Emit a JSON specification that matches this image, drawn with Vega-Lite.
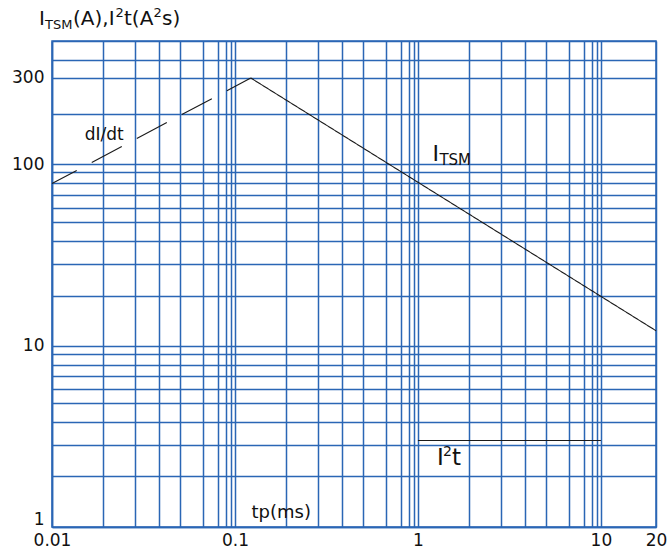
{
  "$schema": "https://vega.github.io/schema/vega-lite/v6.json",
  "width": 604,
  "height": 486,
  "autosize": {"type": "none"},
  "padding": {"left": 52, "top": 41, "right": 14, "bottom": 22},
  "background": "white",
  "config": {"view": {"stroke": "#2a66b5", "strokeWidth": 1.5}, "font": "DejaVu Sans"},
  "encoding": {
    "x": {
      "field": "x", "type": "quantitative",
      "scale": {"type": "log", "domain": [0.01, 20], "nice": false},
      "axis": {
        "values": [0.01, 0.019, 0.0285, 0.0383, 0.05, 0.067, 0.081, 0.089, 0.095, 0.1, 0.19, 0.285, 0.383, 0.5, 0.67, 0.81, 0.89, 0.95, 1, 1.9, 2.85, 3.83, 5, 6.7, 8.1, 8.9, 9.5, 10, 20],
        "format": "~g",
        "labelExpr": "indexof([0.01, 0.1, 1, 10, 20], datum.value) >= 0 ? datum.label : ''",
        "labelOverlap": false, "labelFlush": false,
        "labelFont": "DejaVu Sans", "labelFontSize": 17, "labelColor": "#111", "labelPadding": 5,
        "ticks": false,
        "domainColor": "#2a66b5", "domainWidth": 1.5,
        "grid": true, "gridColor": "#2a66b5", "gridWidth": 1.5, "gridOpacity": 1,
        "title": "tp(ms)", "titleFont": "DejaVu Sans", "titleFontSize": 18, "titleFontWeight": "normal", "titleColor": "#111",
        "titleX": 199, "titleY": -10, "titleAlign": "left", "titleBaseline": "alphabetic", "titleAngle": 0
      }
    },
    "y": {
      "field": "y", "type": "quantitative",
      "scale": {"type": "log", "domain": [1, 480], "nice": false},
      "axis": {
        "values": [1, 1.9, 2.83, 3.8, 4.82, 5.75, 6.8, 7.85, 9.05, 10, 18.9, 28.3, 38, 47.9, 57.4, 67.6, 78.8, 90.6, 100, 188.7, 300, 375.6, 480],
        "format": "~g",
        "labelExpr": "indexof([1, 10, 100, 300], datum.value) >= 0 ? datum.label : ''",
        "labelOverlap": false, "labelFlush": true, "labelFlushOffset": 1,
        "labelFont": "DejaVu Sans", "labelFontSize": 17, "labelColor": "#111", "labelPadding": 8,
        "ticks": false,
        "domainColor": "#2a66b5", "domainWidth": 1.5,
        "grid": true, "gridColor": "#2a66b5", "gridWidth": 1.5, "gridOpacity": 1,
        "title": null
      }
    }
  },
  "layer": [
    {
      "data": {"values": [
        {"series": "dI/dt", "x": 0.01, "y": 78.5},
        {"series": "dI/dt", "x": 0.122, "y": 300},
        {"series": "ITSM", "x": 0.122, "y": 300},
        {"series": "ITSM", "x": 20, "y": 12.1},
        {"series": "I2t", "x": 1, "y": 3},
        {"series": "I2t", "x": 10, "y": 3}
      ]},
      "mark": {"type": "line", "color": "#1a1a1a", "strokeWidth": 1.1, "strokeDashOffset": 6},
      "encoding": {
        "detail": {"field": "series", "type": "nominal"},
        "strokeDash": {"field": "series", "type": "nominal", "scale": {"domain": ["dI/dt", "ITSM", "I2t"], "range": [[34, 17], [1, 0], [1, 0]]}, "legend": null}
      }
    },
    {"data": {"values": [{"x": 0.01, "y": 480, "t": "I"}]}, "mark": {"type": "text", "align": "left", "baseline": "alphabetic", "fontSize": 20, "dx": -13, "dy": -16, "color": "#111"}, "encoding": {"text": {"field": "t", "type": "nominal"}}},
    {"data": {"values": [{"x": 0.01, "y": 480, "t": "TSM"}]}, "mark": {"type": "text", "align": "left", "baseline": "alphabetic", "fontSize": 13, "dx": -7, "dy": -12, "color": "#111"}, "encoding": {"text": {"field": "t", "type": "nominal"}}},
    {"data": {"values": [{"x": 0.01, "y": 480, "t": "(A),I"}]}, "mark": {"type": "text", "align": "left", "baseline": "alphabetic", "fontSize": 20, "dx": 21, "dy": -16, "color": "#111"}, "encoding": {"text": {"field": "t", "type": "nominal"}}},
    {"data": {"values": [{"x": 0.01, "y": 480, "t": "2"}]}, "mark": {"type": "text", "align": "left", "baseline": "alphabetic", "fontSize": 13, "dx": 63.5, "dy": -24, "color": "#111"}, "encoding": {"text": {"field": "t", "type": "nominal"}}},
    {"data": {"values": [{"x": 0.01, "y": 480, "t": "t(A"}]}, "mark": {"type": "text", "align": "left", "baseline": "alphabetic", "fontSize": 20, "dx": 72, "dy": -16, "color": "#111"}, "encoding": {"text": {"field": "t", "type": "nominal"}}},
    {"data": {"values": [{"x": 0.01, "y": 480, "t": "2"}]}, "mark": {"type": "text", "align": "left", "baseline": "alphabetic", "fontSize": 13, "dx": 101.5, "dy": -24, "color": "#111"}, "encoding": {"text": {"field": "t", "type": "nominal"}}},
    {"data": {"values": [{"x": 0.01, "y": 480, "t": "s)"}]}, "mark": {"type": "text", "align": "left", "baseline": "alphabetic", "fontSize": 20, "dx": 110, "dy": -16, "color": "#111"}, "encoding": {"text": {"field": "t", "type": "nominal"}}},
    {"data": {"values": [{"x": 0.0151, "y": 137, "t": "dI/dt"}]}, "mark": {"type": "text", "align": "left", "baseline": "alphabetic", "fontSize": 17, "color": "#111"}, "encoding": {"text": {"field": "t", "type": "nominal"}}},
    {"data": {"values": [{"x": 1.2, "y": 105, "t": "I"}]}, "mark": {"type": "text", "align": "left", "baseline": "alphabetic", "fontSize": 22, "color": "#111"}, "encoding": {"text": {"field": "t", "type": "nominal"}}},
    {"data": {"values": [{"x": 1.2, "y": 105, "t": "TSM"}]}, "mark": {"type": "text", "align": "left", "baseline": "alphabetic", "fontSize": 15, "dx": 7, "dy": 4, "color": "#111"}, "encoding": {"text": {"field": "t", "type": "nominal"}}},
    {"data": {"values": [{"x": 1.27, "y": 2.19, "t": "I"}]}, "mark": {"type": "text", "align": "left", "baseline": "alphabetic", "fontSize": 23, "color": "#111"}, "encoding": {"text": {"field": "t", "type": "nominal"}}},
    {"data": {"values": [{"x": 1.27, "y": 2.19, "t": "2"}]}, "mark": {"type": "text", "align": "left", "baseline": "alphabetic", "fontSize": 14, "dx": 6, "dy": -9, "color": "#111"}, "encoding": {"text": {"field": "t", "type": "nominal"}}},
    {"data": {"values": [{"x": 1.27, "y": 2.19, "t": "t"}]}, "mark": {"type": "text", "align": "left", "baseline": "alphabetic", "fontSize": 23, "dx": 15, "color": "#111"}, "encoding": {"text": {"field": "t", "type": "nominal"}}}
  ]
}
